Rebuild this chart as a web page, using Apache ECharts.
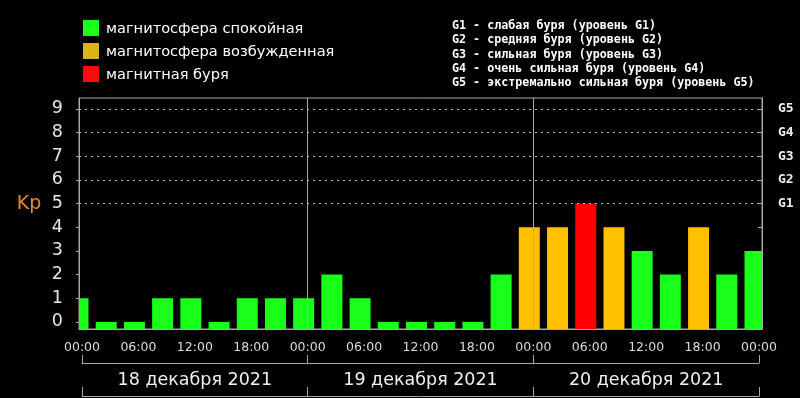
<!DOCTYPE html>
<html>
<head>
<meta charset="utf-8">
<title>Kp</title>
<script src="https://cdn.jsdelivr.net/npm/echarts@6/dist/echarts.min.js"></script>
<style>
html, body { margin: 0; padding: 0; background: #000; }
#kp { width: 800px; height: 398px; }
</style>
</head>
<body>
<div id="kp"></div>
<script>
// часы от 18.12.2021 00:00, шаг 3 часа
var hours = [0, 3, 6, 9, 12, 15, 18, 21, 24, 27, 30, 33, 36, 39, 42, 45, 48, 51, 54, 57, 60, 63, 66, 69, 72];
var kp    = [1, 0, 0, 1, 1, 0, 1, 1, 1, 2, 1, 0, 0, 0, 0, 2, 4, 4, 5, 4, 3, 2, 4, 2, 3];

var timeTicks  = [0, 6, 12, 18, 24, 30, 36, 42, 48, 54, 60, 66, 72];
var timeLabels = ['00:00', '06:00', '12:00', '18:00', '00:00', '06:00', '12:00', '18:00', '00:00', '06:00', '12:00', '18:00', '00:00'];
var stepTicks  = [0, 3, 6, 9, 12, 15, 18, 21, 24, 27, 30, 33, 36, 39, 42, 45, 48, 51, 54, 57, 60, 63, 66, 69, 72];
var kpTicks    = [0, 1, 2, 3, 4, 5, 6, 7, 8, 9];
var stormLevels = [5, 6, 7, 8, 9];
var stormLabels = ['G1', 'G2', 'G3', 'G4', 'G5'];
var dayBounds  = [0, 24, 48, 72];
var dayCenters = [12, 36, 60];
var days       = ['18 декабря 2021', '19 декабря 2021', '20 декабря 2021'];

var legendNames  = ['магнитосфера спокойная', 'магнитосфера возбужденная', 'магнитная буря'];
var legendColors = ['#19ff19', '#dcb414', '#ff0a0a'];
var stormText = [
  'G1 - слабая буря (уровень G1)',
  'G2 - средняя буря (уровень G2)',
  'G3 - сильная буря (уровень G3)',
  'G4 - очень сильная буря (уровень G4)',
  'G5 - экстремально сильная буря (уровень G5)'
];

var GREEN = '#19ff19', AMBER = '#ffc000', RED = '#ff0000';
var GREY = '#a8a8a8';
var KP_MIN = -0.3, KP_MAX = 9.46;

function barColor(v) {
  if (v >= 5) return RED;
  if (v >= 4) return AMBER;
  return GREEN;
}

// столбик чуть левее отметки времени, обрезанный по сетке
function renderBar(params, api) {
  var h = api.value(0), v = api.value(1);
  var top = api.coord([h, v]);
  var base = api.coord([h, KP_MIN]);
  var cs = params.coordSys;
  var rect = echarts.graphic.clipRectByRect(
    { x: top[0] - 14.5, y: top[1], width: 21, height: base[1] - top[1] },
    { x: cs.x, y: cs.y, width: cs.width, height: cs.height }
  );
  if (!rect) return;
  return { type: 'rect', shape: rect, style: { fill: barColor(v) } };
}

var chart = echarts.init(document.getElementById('kp'));

var graphics = [];
legendNames.forEach(function (name, i) {
  graphics.push({
    type: 'rect', left: 83, top: 20 + i * 23,
    shape: { width: 16, height: 16 },
    style: { fill: legendColors[i] }
  });
  graphics.push({
    type: 'text', left: 106, top: 22 + i * 23,
    style: { text: name, fill: '#fff', font: '14.6px "DejaVu Sans"' }
  });
});
graphics.push({
  type: 'text', left: 452, top: 19,
  style: {
    text: stormText.join('\n'), fill: '#fff',
    font: 'bold 11.7px "DejaVu Sans Mono"', lineHeight: 14.2
  }
});
graphics.push({
  type: 'text', x: 29, y: 204,
  style: { text: 'Kp', fill: '#e8892b', font: '19px "DejaVu Sans"', align: 'center', verticalAlign: 'middle' }
});

var dayLines = [24, 48].map(function (h) {
  return { xAxis: h, lineStyle: { color: GREY, type: 'solid', width: 1 } };
});
var stormLines = stormLevels.map(function (v) {
  return { yAxis: v, lineStyle: { color: '#bdbdbd', type: [2, 4], width: 1 } };
});

chart.setOption({
  backgroundColor: '#000',
  animation: false,
  textStyle: { fontFamily: 'DejaVu Sans' },
  graphic: graphics,
  grid: [
    { left: 79, right: 38, top: 98, bottom: 69, show: true, borderColor: GREY, borderWidth: 1 },
    // подписи дат под осью времени
    { left: 82, right: 41, top: 98, bottom: 69 }
  ],
  xAxis: [
    {
      type: 'value', gridIndex: 0, min: -0.32, max: 72.32, position: 'bottom',
      axisLine: { show: true, onZero: false, lineStyle: { color: GREY } },
      axisTick: { show: true, inside: true, length: 4, customValues: stepTicks, lineStyle: { color: GREY } },
      axisLabel: {
        customValues: timeTicks, color: '#dcdcdc', fontSize: 12.5, margin: 12,
        formatter: function (v) { return timeLabels[timeTicks.indexOf(v)]; }
      },
      splitLine: { show: false }
    },
    {
      type: 'value', gridIndex: 1, min: 0, max: 72, position: 'bottom', offset: 34,
      axisLine: { show: true, onZero: false, lineStyle: { color: GREY } },
      axisTick: { show: true, inside: true, length: 8, customValues: dayBounds, lineStyle: { color: GREY } },
      axisLabel: {
        customValues: dayCenters, color: '#f0f0f0', fontSize: 17.5, margin: 8,
        formatter: function (v) { return days[dayCenters.indexOf(v)]; }
      },
      splitLine: { show: false }
    },
    {
      type: 'value', gridIndex: 1, min: 0, max: 72, position: 'bottom', offset: 67,
      axisLine: { show: true, onZero: false, lineStyle: { color: GREY } },
      axisTick: { show: true, inside: true, length: 9, customValues: dayBounds, lineStyle: { color: GREY } },
      axisLabel: { show: false },
      splitLine: { show: false }
    }
  ],
  yAxis: [
    {
      type: 'value', gridIndex: 0, min: KP_MIN, max: KP_MAX, position: 'left',
      axisLine: { show: true, onZero: false, lineStyle: { color: GREY } },
      axisTick: { show: true, length: 3, customValues: kpTicks, lineStyle: { color: GREY } },
      axisLabel: { customValues: kpTicks, color: '#e6e6e6', fontSize: 17.5, margin: 16, padding: [5, 0, 0, 0] },
      splitLine: { show: false }
    },
    {
      type: 'value', gridIndex: 0, min: KP_MIN, max: KP_MAX, position: 'right',
      axisLine: { show: true, onZero: false, lineStyle: { color: GREY } },
      axisTick: { show: true, inside: true, length: 4, customValues: kpTicks, lineStyle: { color: GREY } },
      axisLabel: {
        customValues: stormLevels, color: '#f0f0f0', margin: 16, padding: [4, 0, 0, 0],
        fontFamily: 'DejaVu Sans Mono', fontWeight: 'bold', fontSize: 13,
        formatter: function (v) { return stormLabels[stormLevels.indexOf(v)]; }
      },
      splitLine: { show: false }
    },
    { type: 'value', gridIndex: 1, show: false, min: 0, max: 1 }
  ],
  series: [
    {
      name: 'Kp', type: 'custom', xAxisIndex: 0, yAxisIndex: 0,
      renderItem: renderBar,
      encode: { x: 0, y: 1 },
      data: hours.map(function (h, i) { return [h, kp[i]]; }),
      markLine: {
        silent: true, symbol: 'none', label: { show: false },
        data: dayLines.concat(stormLines)
      }
    }
  ]
});
</script>
</body>
</html>
